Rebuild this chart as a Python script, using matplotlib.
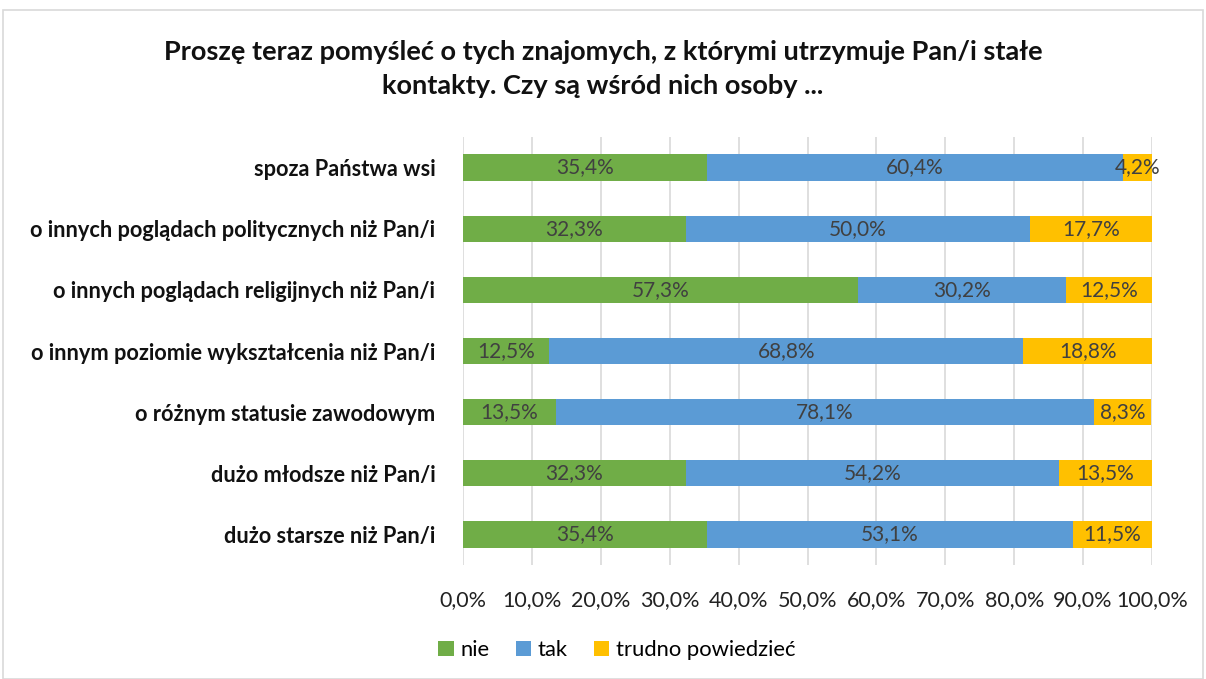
import matplotlib
matplotlib.use("Agg")
import matplotlib.pyplot as plt
from matplotlib.patches import Rectangle

categories = ["spoza Państwa wsi",
              "o innych poglądach politycznych niż Pan/i",
              "o innych poglądach religijnych niż Pan/i",
              "o innym poziomie wykształcenia niż Pan/i",
              "o różnym statusie zawodowym",
              "dużo młodsze niż Pan/i",
              "dużo starsze niż Pan/i"]
nie = [35.4, 32.3, 57.3, 12.5, 13.5, 32.3, 35.4]
tak = [60.4, 50.0, 30.2, 68.8, 78.1, 54.2, 53.1]
trudno = [4.2, 17.7, 12.5, 18.8, 8.3, 13.5, 11.5]
series_names = ["nie", "tak", "trudno powiedzieć"]
colors = ["#70AD47", "#5B9BD5", "#FFC000"]
xticks = [0, 10, 20, 30, 40, 50, 60, 70, 80, 90, 100]

plt.rcParams['font.family'] = ['Lato', 'DejaVu Sans']

fig = plt.figure(figsize=(12.06, 6.79), dpi=100)
ax = fig.add_axes([463/1206, 1-565/679, (1152-463)/1206, (565-137)/679])

n = len(categories)
ypos = list(range(n))[::-1]
left = [0]*n
for vals, col, name in zip([nie, tak, trudno], colors, series_names):
    ax.barh(ypos, vals, left=left, height=0.43, color=col, label=name, zorder=3)
    for y, l, v in zip(ypos, left, vals):
        ax.text(l + v/2, y, f"{v:.1f}%".replace(".", ","), ha="center", va="center",
                fontsize=15, color="#404040", zorder=4)
    left = [a + b for a, b in zip(left, vals)]

ax.set_xlim(0, 100)
ax.set_ylim(-0.5, n - 0.5)
ax.set_xticks(xticks)
ax.set_xticklabels([f"{t:.1f}%".replace(".", ",") for t in xticks], fontsize=15.5, color="#222222")
ax.set_yticks(ypos)
ax.set_yticklabels(categories, fontsize=15.7, fontweight="bold", color="#111111")
ax.tick_params(axis="both", length=0)
ax.tick_params(axis="x", pad=18)
ax.tick_params(axis="y", pad=20)
ax.grid(axis="x", color="#D9D9D9", linewidth=1.2, zorder=0)
for s in ax.spines.values():
    s.set_visible(False)

fig.text(0.5, 1-69/679, "Proszę teraz pomyśleć o tych znajomych, z którymi utrzymuje Pan/i stałe\nkontakty. Czy są wśród nich osoby ...",
         ha="center", va="center", fontsize=19.5, fontweight="bold", linespacing=1.45, color="#111111")

fig.legend(loc="center", bbox_to_anchor=(617/1206, 1-650/679), ncol=3, frameon=False,
           fontsize=15.8, handlelength=0.7, handleheight=0.7, handletextpad=0.3, columnspacing=1.2)

fig.patches.append(Rectangle((3/1206, 0), 1 - 6/1206, 1 - 10/679, transform=fig.transFigure,
                             fill=False, edgecolor="#D9D9D9", linewidth=1.2))

fig.savefig("out.png", dpi=100)
